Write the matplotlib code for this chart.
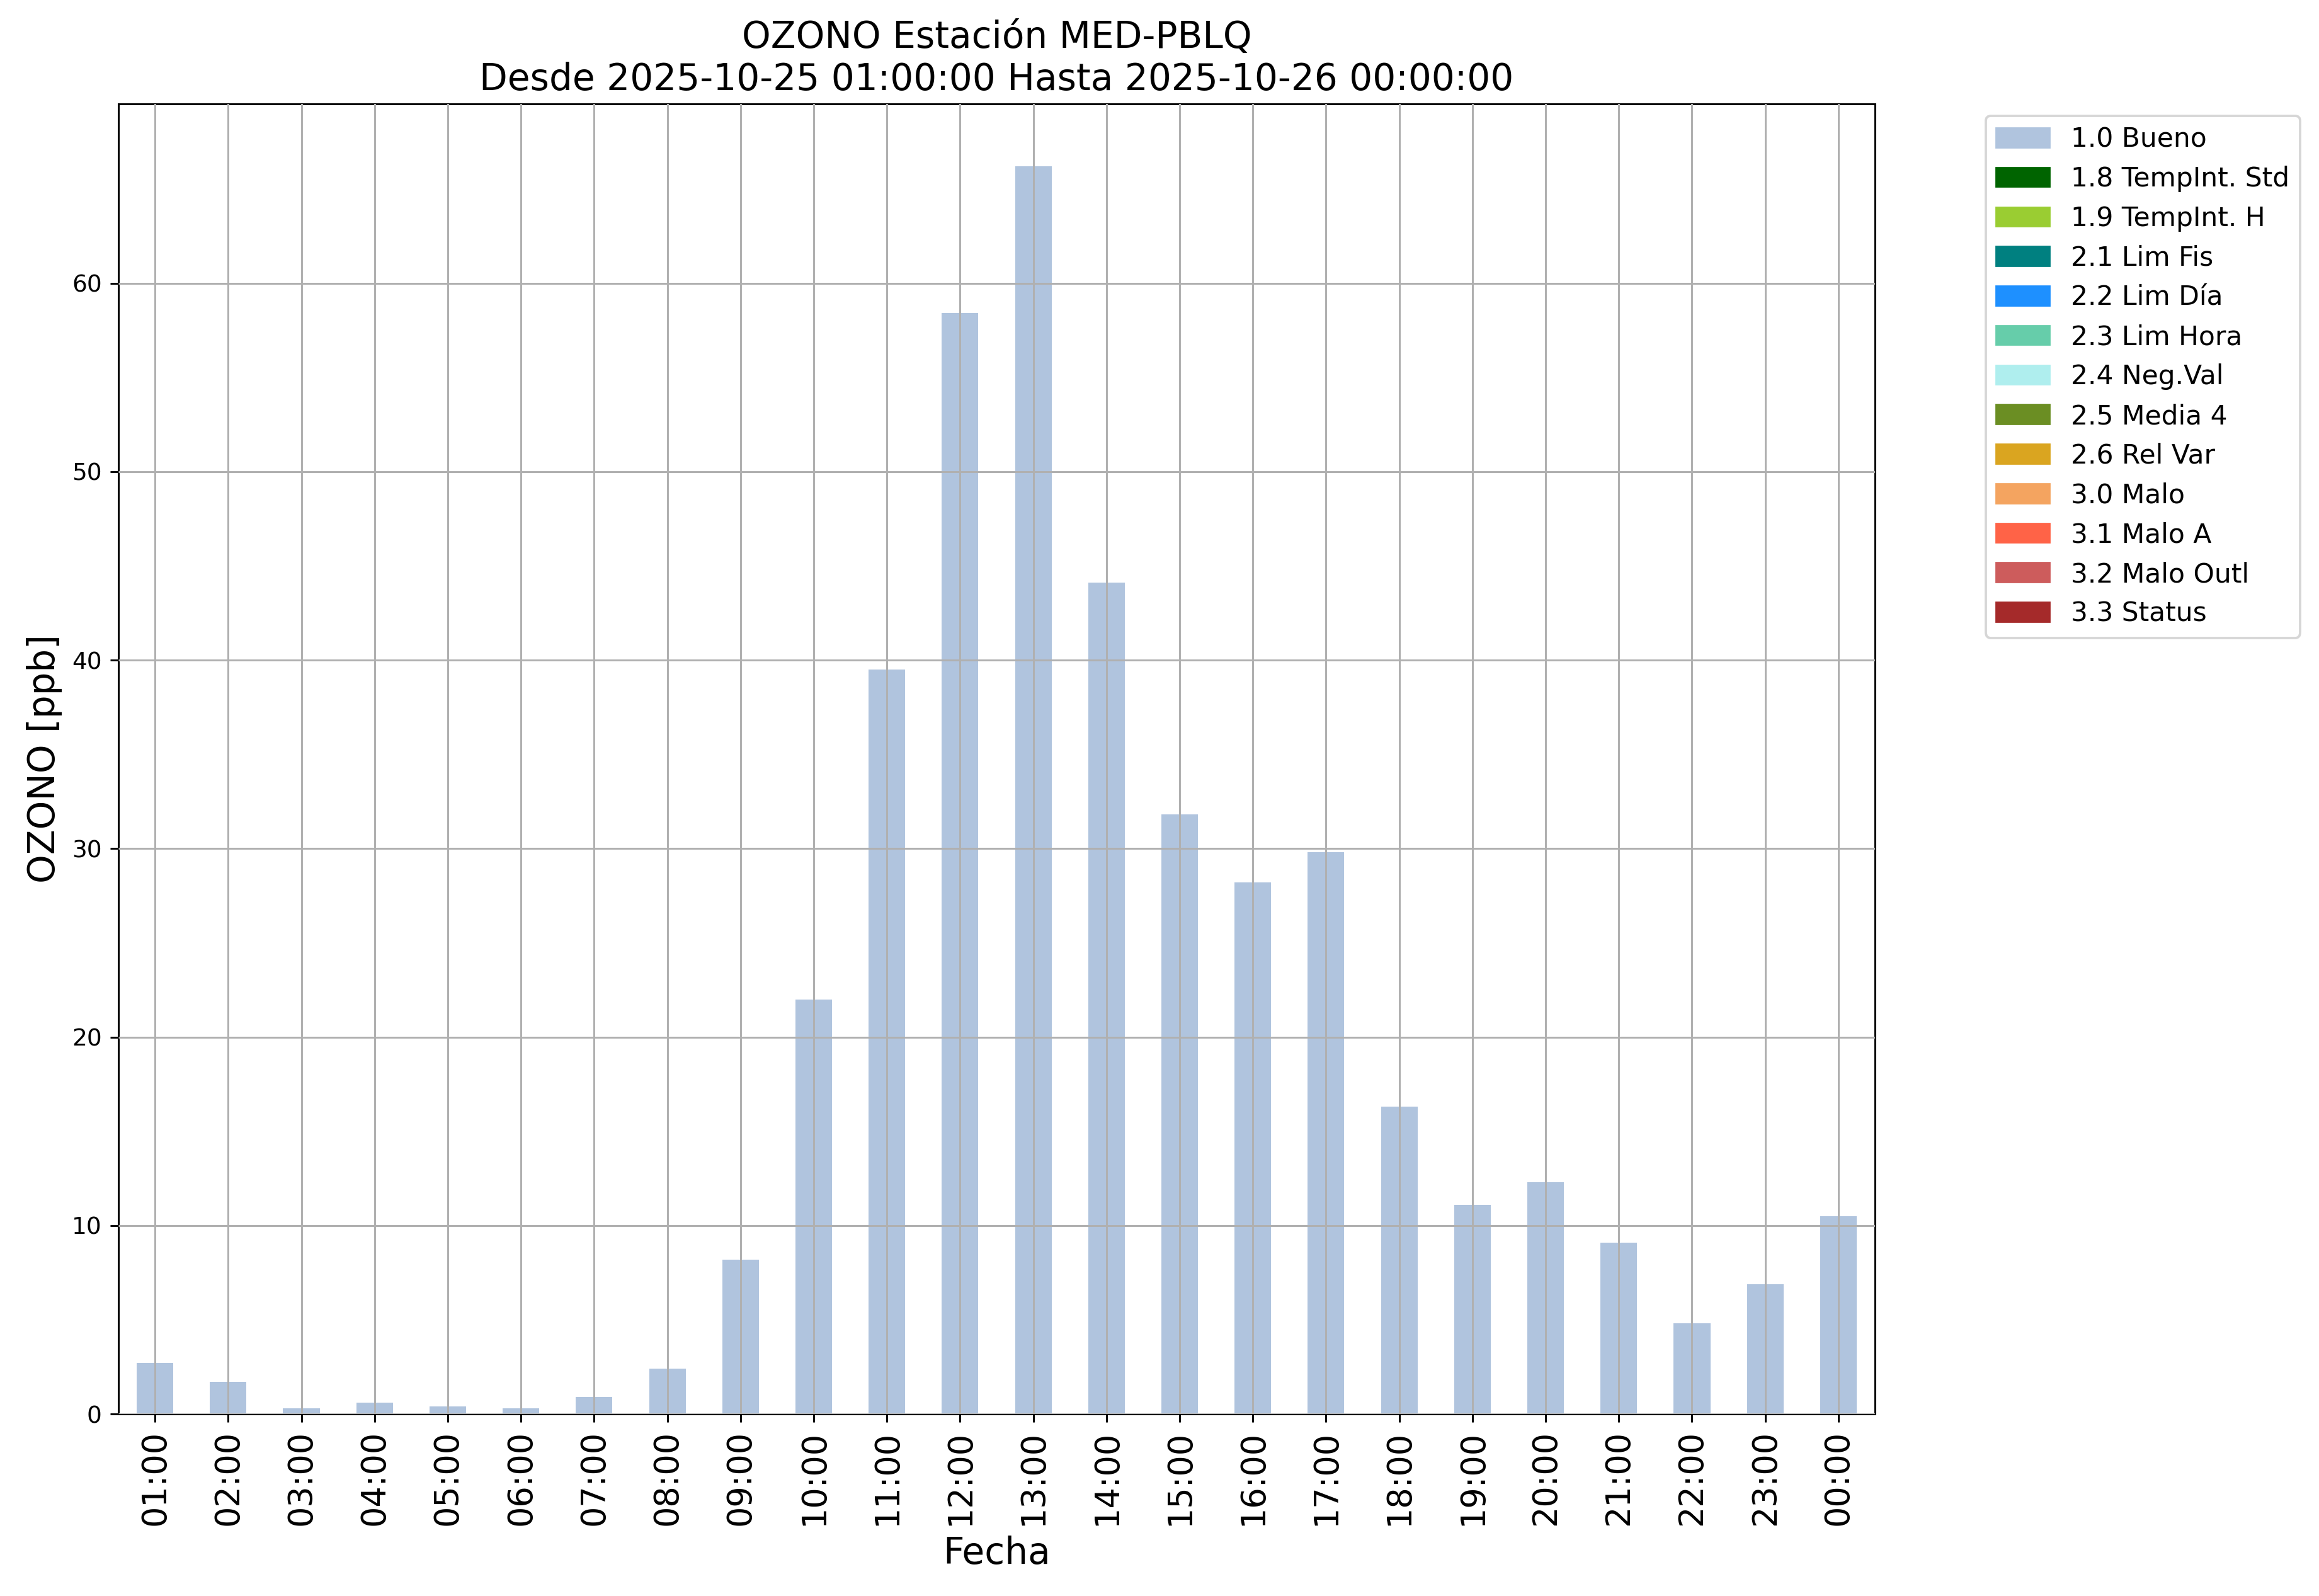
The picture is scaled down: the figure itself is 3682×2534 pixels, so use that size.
import numpy as np
import matplotlib.pyplot as plt
from matplotlib.patches import Patch

# hourly ozone values (flag 1.0 Bueno)
horas = ['01:00', '02:00', '03:00', '04:00', '05:00', '06:00', '07:00', '08:00',
         '09:00', '10:00', '11:00', '12:00', '13:00', '14:00', '15:00', '16:00',
         '17:00', '18:00', '19:00', '20:00', '21:00', '22:00', '23:00', '00:00']
ozono = [2.7, 1.7, 0.3, 0.6, 0.4, 0.3, 0.9, 2.4,
         8.2, 22.0, 39.5, 58.4, 66.2, 44.1, 31.8, 28.2,
         29.8, 16.3, 11.1, 12.3, 9.1, 4.8, 6.9, 10.5]

# flag categories shown in the legend
banderas = ['1.0 Bueno', '1.8 TempInt. Std', '1.9 TempInt. H', '2.1 Lim Fis',
            '2.2 Lim Día', '2.3 Lim Hora', '2.4 Neg.Val', '2.5 Media 4',
            '2.6 Rel Var', '3.0 Malo', '3.1 Malo A', '3.2 Malo Outl', '3.3 Status']
colores = ['lightsteelblue', 'darkgreen', 'yellowgreen', 'teal', 'dodgerblue',
           'mediumaquamarine', 'paleturquoise', 'olivedrab', 'goldenrod',
           'sandybrown', 'tomato', 'indianred', 'brown']

dpi = 270
fig = plt.figure(figsize=(3682 / dpi, 2534 / dpi), dpi=dpi)
ax = fig.add_axes([188 / 3682, 1 - 2245 / 2534, (2977 - 188) / 3682, (2245 - 165) / 2534])

x = np.arange(len(horas))
ax.bar(x, ozono, width=0.5, color=colores[0])
ax.set_xlim(-0.5, len(horas) - 0.5)

ax.set_xticks(x)
ax.set_xticklabels(horas, rotation=90, fontsize=14)
ax.tick_params(axis='y', labelsize=10)

# grid drawn over the bars, like the original
ax.grid(True, color='#b0b0b0', linewidth=0.8)
ax.set_axisbelow(False)

ax.set_title('OZONO Estación MED-PBLQ\nDesde 2025-10-25 01:00:00 Hasta 2025-10-26 00:00:00',
             fontsize=15.5)
ax.set_ylabel('OZONO [ppb]', fontsize=15.5)
ax.set_xlabel('Fecha', fontsize=15.5)

handles = [Patch(color=c, label=b) for b, c in zip(banderas, colores)]
ax.legend(handles=handles, loc='upper left', bbox_to_anchor=(1.063, 0.991),
          borderaxespad=0, fontsize=11.3, labelspacing=0.49)

fig.savefig('out.png', dpi=dpi)
